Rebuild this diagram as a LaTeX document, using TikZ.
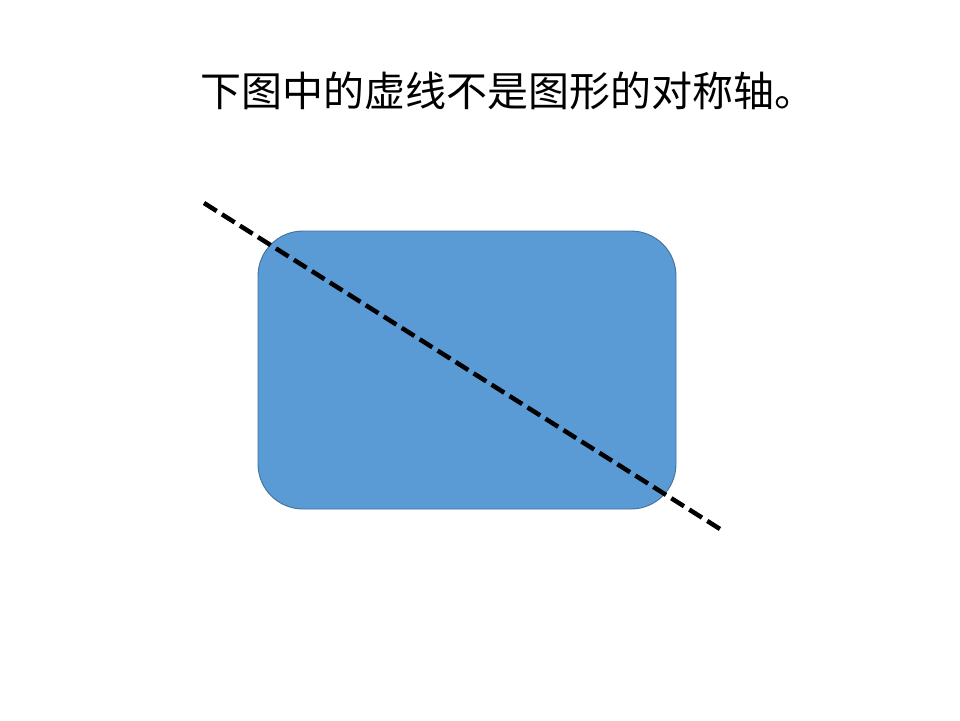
\documentclass[tikz,border=0pt]{standalone}
\usepackage{fontspec}
\newfontfamily\cjk{Noto Sans CJK SC}
\definecolor{boxfill}{HTML}{5B9BD5}
\definecolor{boxline}{HTML}{41719C}
\begin{document}
\begin{tikzpicture}[x=1pt,y=-1pt,
  shapebox/.style={fill=boxfill,draw=boxline,line width=0.9pt,rounded corners=45pt},
  axisline/.style={line width=4.5pt,dash pattern=on 15pt off 6.26pt,black},
  titletext/.style={inner sep=0pt,font=\cjk\fontsize{41}{48}\selectfont}]
\useasboundingbox (0,0) rectangle (960,720);
\node[titletext] (title) at (507.5,91) {下图中的虚线不是图形的对称轴。};
\draw[shapebox] (258,231) rectangle (676,509);
\coordinate (a) at (204,203);
\coordinate (b) at (720,529);
\draw[axisline] (a) -- (b);
\end{tikzpicture}
\end{document}
